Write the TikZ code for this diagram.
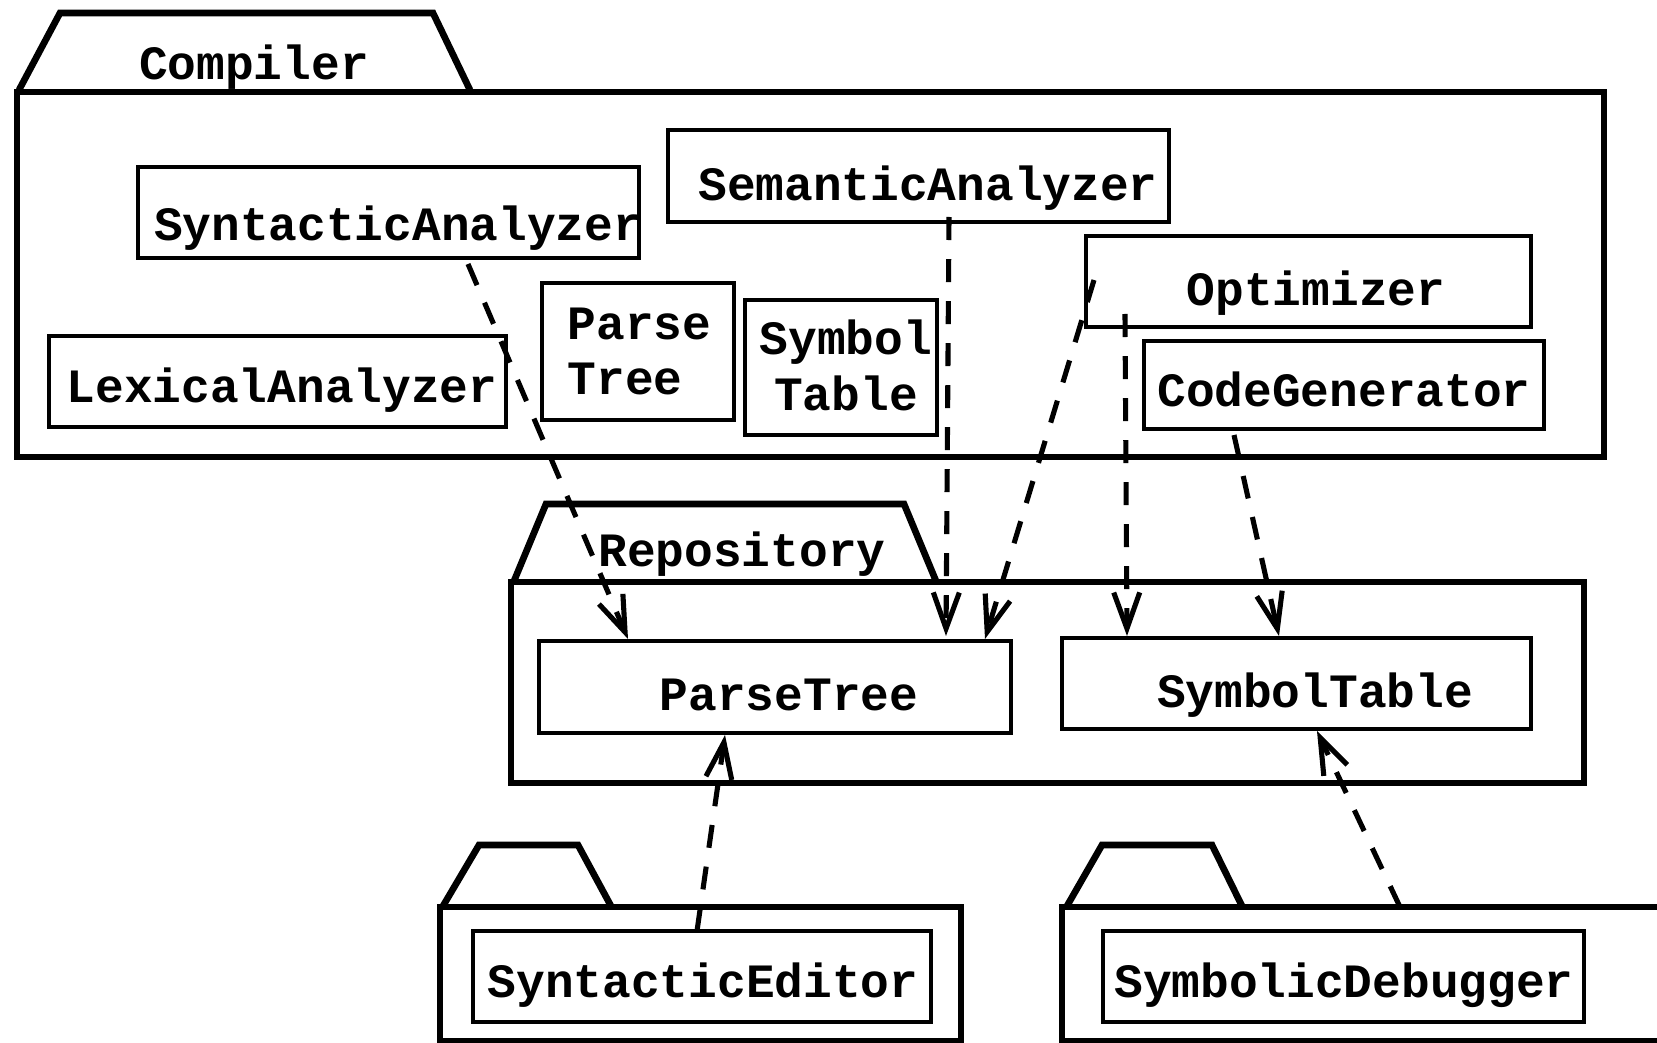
\documentclass[tikz,border=0pt]{standalone}
\usepackage{fontspec}
\setmonofont{Liberation Mono}
\usetikzlibrary{arrows.meta,fit}
\tikzset{
  pkg/.style={draw, line width=1.9pt, inner sep=0pt},
  tabline/.style={draw, line width=1.9pt, line join=miter},
  boxx/.style={draw, line width=0.95pt, inner sep=0pt},
  lbl/.style={anchor=base, inner sep=0pt, font=\fontsize{13.6}{16}\selectfont\ttfamily\bfseries},
  dep/.style={line width=1.45pt, dash pattern=on 0.23cm off 0.19cm,
    -{Straight Barb[length=0.36cm,width=0.26cm,line width=1.45pt]}}
}
\begin{document}
\begin{tikzpicture}[x=0.01cm,y=-0.01cm]
\useasboundingbox (0,0) rectangle (1657,1043);
\clip (0,0) rectangle (1657,1043);
% Compiler package
\draw[tabline] (19,90) -- (60,13) -- (433,13) -- (470,90);
\node[pkg, fit={(17,92) (1604,457)}] (compiler) {};
\node[lbl] (compilerT) at (254,80) {Compiler};
% Repository package
\draw[tabline] (514,581) -- (546,504) -- (904,504) -- (936,581);
\node[pkg, fit={(511,582) (1584,783)}] (repo) {};
\node[lbl] (repoT) at (742,567) {Repository};
% bottom packages
\draw[tabline] (443,906) -- (479,845) -- (578,845) -- (611,906);
\node[pkg, fit={(440,907) (961,1041)}] (editorpkg) {};
\draw[tabline] (1067,906) -- (1102,845) -- (1212,845) -- (1242,906);
\node[pkg, fit={(1062,907) (1720,1041)}] (debugpkg) {};
% Compiler content
\node[boxx, fit={(138,167) (639,258)}] (sa) {};
\node[lbl] (saT) at (398,241) {SyntacticAnalyzer};
\node[boxx, fit={(668,130) (1169,222)}] (sem) {};
\node[lbl] (semT) at (928,201) {SemanticAnalyzer};
\node[boxx, fit={(1086,236) (1531,327)}] (opt) {};
\node[lbl] (optT) at (1316,306) {Optimizer};
\node[boxx, fit={(1144,341) (1544,429)}] (cg) {};
\node[lbl] (cgT) at (1344,407) {CodeGenerator};
\node[boxx, fit={(49,336) (506,427)}] (lex) {};
\node[lbl] (lexT) at (282,403) {LexicalAnalyzer};
\node[boxx, fit={(542,283) (734,420)}] (ptc) {};
\node[lbl, anchor=base west] (ptc1) at (567,340) {Parse};
\node[lbl, anchor=base west] (ptc2) at (567,395) {Tree};
\node[boxx, fit={(745,300) (937,435)}] (stc) {};
\node[lbl] (stc1) at (846,355) {Symbol};
\node[lbl] (stc2) at (846,411) {Table};
% Repository content
\node[boxx, fit={(539,641) (1011,733)}] (pt) {};
\node[lbl] (ptT) at (789,711) {ParseTree};
\node[boxx, fit={(1062,638) (1531,729)}] (st) {};
\node[lbl] (stT) at (1315,707) {SymbolTable};
% bottom content
\node[boxx, fit={(473,931) (931,1022)}] (se) {};
\node[lbl] (seT) at (703,997) {SyntacticEditor};
\node[boxx, fit={(1103,931) (1584,1022)}] (sd) {};
\node[lbl] (sdT) at (1344,997) {SymbolicDebugger};
% connector end points
\coordinate (a1) at (468,264); \coordinate (b1) at (628,639);
\coordinate (a2) at (949,217); \coordinate (b2) at (946,636);
\coordinate (a3) at (1094,280); \coordinate (b3) at (985,639);
\coordinate (a4) at (1125,314); \coordinate (b4) at (1127,636);
\coordinate (a5) at (1234,435); \coordinate (b5) at (1279,636);
\coordinate (a6) at (697,931); \coordinate (b6) at (725,735);
\coordinate (a7) at (1400,907); \coordinate (b7) at (1317,731);
\draw[dep] (a1) -- (b1);
\draw[dep] (a2) -- (b2);
\draw[dep] (a3) -- (b3);
\draw[dep] (a4) -- (b4);
\draw[dep] (a5) -- (b5);
\draw[dep] (a6) -- (b6);
\draw[dep] (a7) -- (b7);
\end{tikzpicture}
\end{document}
